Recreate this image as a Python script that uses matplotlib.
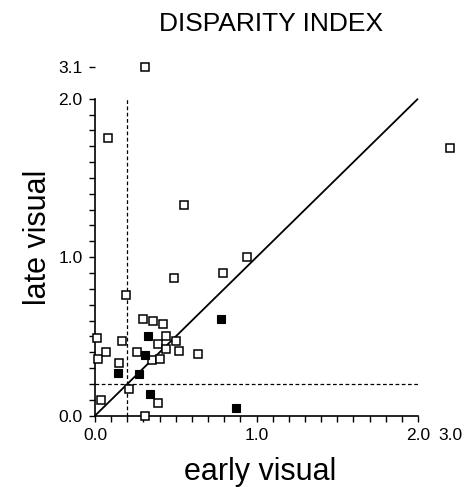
import numpy as np
import matplotlib
matplotlib.use("Agg")
import matplotlib.pyplot as plt

plt.rcParams['font.family'] = ['Liberation Sans', 'DejaVu Sans']

# ---- data (early visual, late visual) ----
open_x = [0.01, 0.02, 0.07, 0.04, 0.15, 0.17, 0.21, 0.26, 0.30, 0.36, 0.42, 0.44,
          0.39, 0.44, 0.50, 0.52, 0.35, 0.40, 0.39, 0.31, 0.64, 0.08, 0.55, 0.49,
          0.79, 0.94, 0.19, 0.31, 3.0]
open_y = [0.49, 0.36, 0.40, 0.10, 0.33, 0.47, 0.17, 0.40, 0.61, 0.60, 0.58, 0.50,
          0.45, 0.42, 0.47, 0.41, 0.35, 0.36, 0.08, 0.00, 0.39, 1.75, 1.33, 0.87,
          0.90, 1.00, 0.76, 3.1, 1.69]
filled_x = [0.33, 0.31, 0.14, 0.27, 0.34, 0.78, 0.87]
filled_y = [0.50, 0.38, 0.27, 0.26, 0.14, 0.61, 0.05]
threshold = 0.2
axis_max = 2.0
break_pos = 2.2          # where off-scale values are drawn
x_break_label = "3.0"
y_break_label = "3.1"
title = "DISPARITY INDEX"
xlabel = "early visual"
ylabel = "late visual"


def place(v):
    v = np.asarray(v, dtype=float)
    return np.where(v > axis_max, break_pos, v)


fig = plt.figure(figsize=(4.69, 4.87), dpi=100)
W, H = 469, 487
x0_px, ppu_x = 95, 161.5
y0_px, ppu_y = 415.7, 158.5
xmax, ymax = 2.3, 2.25
ax = fig.add_axes([x0_px / W, (H - y0_px) / H, xmax * ppu_x / W, ymax * ppu_y / H])
ax.set_xlim(0, xmax)
ax.set_ylim(0, ymax)

# reference lines
ax.plot([0, axis_max], [0, axis_max], color='black', lw=1.3, solid_capstyle='butt')
ax.plot([threshold, threshold], [0, axis_max], color='black', lw=0.9, ls=(0, (3, 2)))
ax.plot([0, axis_max], [threshold, threshold], color='black', lw=0.9, ls=(0, (3, 2)))

# points
ax.plot(place(open_x), place(open_y), ls='none', marker='s', ms=5.2, mfc='white',
        mec='black', mew=1.1, clip_on=False, zorder=3)
ax.plot(place(filled_x), place(filled_y), ls='none', marker='s', ms=5.4, mfc='black',
        mec='black', mew=0.8, clip_on=False, zorder=3)

# spines
for s in ['top', 'right']:
    ax.spines[s].set_visible(False)
ax.spines['left'].set_bounds(0, axis_max)
ax.spines['bottom'].set_bounds(0, axis_max)
ax.spines['left'].set_linewidth(1.2)
ax.spines['bottom'].set_linewidth(1.2)

ax.set_xticks([0, 1, 2, break_pos])
ax.set_xticklabels(["0.0", "1.0", "2.0", x_break_label])
ax.set_yticks([0, 1, 2, break_pos])
ax.set_yticklabels(["0.0", "1.0", "2.0", y_break_label])
ax.set_xticks(np.arange(0, axis_max + 0.001, 0.1), minor=True)
ax.set_yticks(np.arange(0, axis_max + 0.001, 0.1), minor=True)
ax.tick_params(which='both', direction='out', length=4, width=1.0, labelsize=12.5, pad=6)
ax.tick_params(axis='y', which='major', pad=5)
ax.tick_params(axis='x', which='major', pad=5)
ax.xaxis.get_major_ticks()[3].tick1line.set_visible(False)

ax.set_xlabel(xlabel, fontsize=22, labelpad=8)
ax.xaxis.set_label_coords((260 - x0_px) / (xmax * ppu_x), -0.117, transform=ax.transAxes)
ax.xaxis.label.set_va('top')
ax.set_ylabel(ylabel, fontsize=22, labelpad=4)
fig.text(271 / W, 1 - 24 / H, title, fontsize=19, ha='center', va='center')

fig.savefig("out.png", dpi=100)
